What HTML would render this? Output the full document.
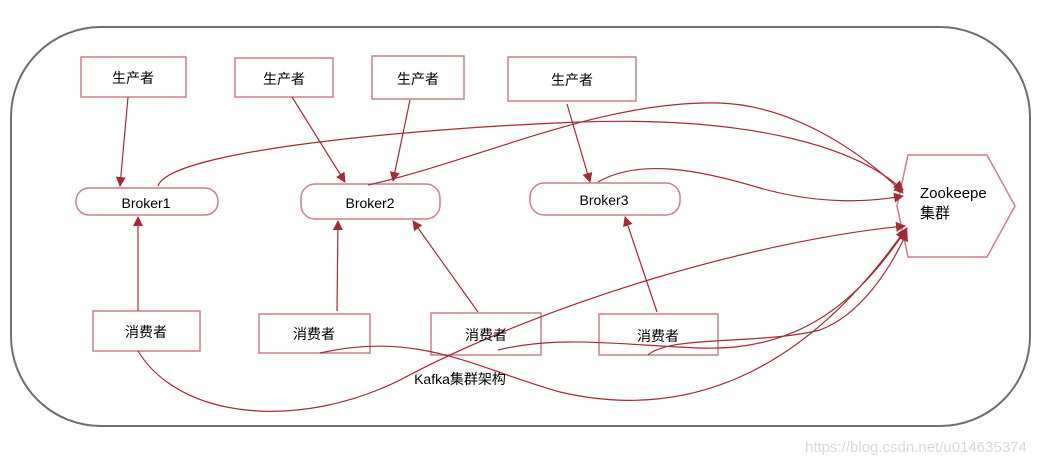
<!DOCTYPE html>
<html><head><meta charset="utf-8"><style>
body{margin:0;background:#fff;}
svg{display:block;font-family:"Liberation Sans","Noto Sans CJK SC",sans-serif;}
</style></head><body>
<svg width="1047" height="465" viewBox="0 0 1047 465" xmlns="http://www.w3.org/2000/svg">
<defs><marker id="a" markerWidth="10" markerHeight="10" refX="9" refY="5" orient="auto" markerUnits="userSpaceOnUse"><path d="M0,0 L10,5 L0,10 z" fill="#a52a33"/></marker>
<clipPath id="hc"><rect x="900" y="150" width="87" height="110"/></clipPath></defs>
<rect x="11" y="27" width="1019" height="399" rx="90" ry="90" fill="none" stroke="#6e6e6e" stroke-width="2"/>
<g fill="#fff" stroke="#cc7f85" stroke-width="1.5">
<rect x="81" y="57" width="105" height="40"/>
<rect x="235" y="58" width="98" height="39"/>
<rect x="372" y="56" width="92" height="43"/>
<rect x="508" y="57" width="128" height="44"/>
<rect x="76" y="188" width="142" height="27" rx="13"/>
<rect x="301" y="184" width="139" height="35" rx="14"/>
<rect x="530" y="183" width="150" height="32" rx="14"/>
<rect x="93" y="311" width="107" height="40"/>
<rect x="259" y="314" width="111" height="39"/>
<rect x="431" y="313" width="110" height="42"/>
<rect x="599" y="314" width="119" height="41"/>
<polygon points="897,206 908,155 987,155 1015,206 987,257 908,257"/>
</g>
<g fill="none" stroke="#a52a33" stroke-width="1.2">
<line x1="128" y1="97" x2="120" y2="186" marker-end="url(#a)"/>
<line x1="292" y1="97" x2="345" y2="182" marker-end="url(#a)"/>
<line x1="410" y1="100" x2="393" y2="181" marker-end="url(#a)"/>
<line x1="567" y1="104" x2="590" y2="182" marker-end="url(#a)"/>
<line x1="138" y1="311" x2="138" y2="217" marker-end="url(#a)"/>
<line x1="337" y1="311" x2="338" y2="221" marker-end="url(#a)"/>
<line x1="478" y1="312" x2="413" y2="221" marker-end="url(#a)"/>
<line x1="657" y1="312" x2="625" y2="217" marker-end="url(#a)"/>
<path d="M158,186 C170,150 420,128 580,122 C760,116 860,150 903,190" marker-end="url(#a)"/>
<path d="M368,185 C480,160 600,100 720,103 C800,106 870,160 903,193" marker-end="url(#a)"/>
<path d="M598,182 C640,158 700,170 760,188 C820,205 870,202 903,196" marker-end="url(#a)"/>
<path d="M138,351 C180,420 300,430 400,380 C550,300 760,240 905,226" marker-end="url(#a)"/>
<path d="M320,353 C420,330 480,370 560,392 C680,420 800,380 905,230" marker-end="url(#a)"/>
<path d="M498,350 C560,335 620,345 700,348 C800,352 860,300 907,228" marker-end="url(#a)"/>
<path d="M648,355 C670,335 760,345 820,330 C860,315 890,270 907,232" marker-end="url(#a)"/>
</g>
<g font-size="14" text-anchor="middle" fill="#000">
<text x="133" y="83">生产者</text>
<text x="284" y="84">生产者</text>
<text x="418" y="84">生产者</text>
<text x="572" y="85">生产者</text>
<text x="146" y="208">Broker1</text>
<text x="370" y="208">Broker2</text>
<text x="604" y="205">Broker3</text>
<text x="146" y="337">消费者</text>
<text x="314" y="339">消费者</text>
<text x="486" y="340">消费者</text>
<text x="658" y="341">消费者</text>
<text x="460" y="384">Kafka集群架构</text>
</g>
<g clip-path="url(#hc)">
<text x="920" y="198" font-size="15">Zookeeper</text>
<text x="920" y="218" font-size="15">集群</text>
</g>
<text x="805" y="452" font-size="15" fill="#d8d8d8">https://blog.csdn.net/u014635374</text>
</svg>
</body></html>
